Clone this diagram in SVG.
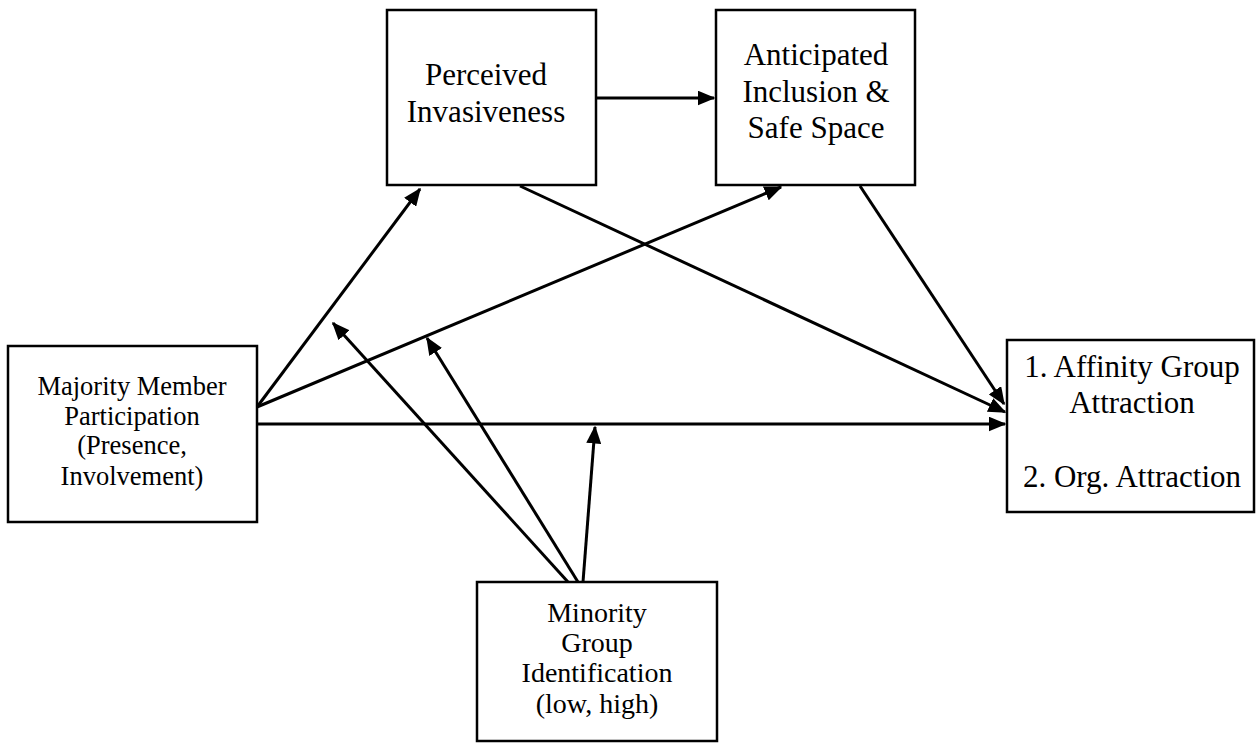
<svg xmlns="http://www.w3.org/2000/svg" width="1257" height="744" viewBox="0 0 1257 744">
<defs>
<marker id="ah" markerWidth="6" markerHeight="5" refX="5.5" refY="2.5" orient="auto" markerUnits="strokeWidth" viewBox="0 0 6 5">
<path d="M0,0 L6,2.5 L0,5 z" fill="#000"/>
</marker>
<style>
.box{fill:#fff;stroke:#000;stroke-width:2.5}
.t{font-family:"Liberation Serif","Times New Roman",serif;fill:#000;text-anchor:middle}
.big{font-size:31px}
.mid{font-size:28px}
.sm{font-size:26.5px}
.c{stroke:#000;stroke-width:3;fill:none;marker-end:url(#ah)}
</style>
</defs>
<rect width="1257" height="744" fill="#fff"/>
<g id="perceived">
<rect class="box" x="387" y="10" width="209" height="175"/>
<text class="t big" x="486" y="85">Perceived</text>
<text class="t big" x="486" y="122">Invasiveness</text>
</g>
<g id="anticipated">
<rect class="box" x="716" y="10" width="199" height="175"/>
<text class="t big" x="816" y="65">Anticipated</text>
<text class="t big" x="816" y="102">Inclusion &amp;</text>
<text class="t big" x="816" y="138">Safe Space</text>
</g>
<g id="majority">
<rect class="box" x="8" y="346" width="249" height="176"/>
<text class="t sm" x="132" y="395">Majority Member</text>
<text class="t sm" x="132" y="425">Participation</text>
<text class="t sm" x="132" y="454">(Presence,</text>
<text class="t sm" x="132" y="485">Involvement)</text>
</g>
<g id="affinity">
<rect class="box" x="1007" y="340" width="247" height="172"/>
<text class="t big" x="1132" y="377">1. Affinity Group</text>
<text class="t big" x="1132" y="413">Attraction</text>
<text class="t big" x="1132" y="487">2. Org. Attraction</text>
</g>
<g id="minority">
<rect class="box" x="477" y="582" width="240" height="159"/>
<text class="t mid" x="597" y="622">Minority</text>
<text class="t mid" x="597" y="652">Group</text>
<text class="t mid" x="597" y="682">Identification</text>
<text class="t mid" x="597" y="713">(low, high)</text>
</g>
<g id="connectors">
<line class="c" x1="597" y1="98" x2="714" y2="98"/>
<line class="c" x1="257" y1="407" x2="420" y2="189"/>
<line class="c" x1="257" y1="407" x2="781" y2="187"/>
<line class="c" x1="520" y1="186" x2="1005" y2="412"/>
<line class="c" x1="860" y1="186" x2="1004" y2="404"/>
<line class="c" x1="257" y1="424" x2="1005" y2="424"/>
<line class="c" x1="568" y1="582" x2="333" y2="323"/>
<line class="c" x1="578" y1="582" x2="427" y2="338"/>
<line class="c" x1="583" y1="582" x2="595" y2="427"/>
</g>
</svg>
